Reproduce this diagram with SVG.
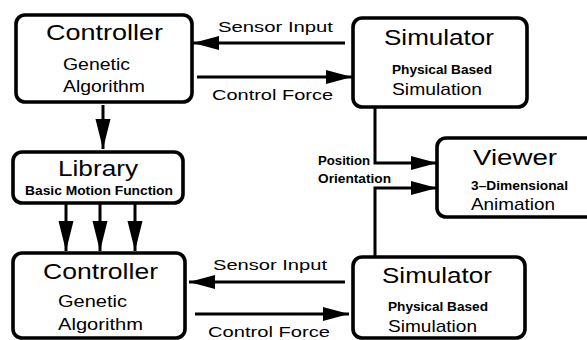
<svg xmlns="http://www.w3.org/2000/svg" width="587" height="340" viewBox="0 0 587 340">
<defs>
<style>
.box{fill:#fff;stroke:#000;stroke-width:3.6}
.ln{fill:none;stroke:#000;stroke-width:3}
text{font-family:"Liberation Sans",Arial,Helvetica,sans-serif;fill:#000}
.t{font-size:22px}
.s{font-size:17px}
.b{font-size:12px;font-weight:bold}
.l{font-size:15px}
</style>
<marker id="ah" markerUnits="userSpaceOnUse" markerWidth="28" markerHeight="16" refX="26" refY="7" orient="auto">
<path d="M0,0 L26,7 L0,14 z" fill="#000"/>
</marker>
<marker id="ad" markerUnits="userSpaceOnUse" markerWidth="32" markerHeight="16" refX="30" refY="7.5" orient="auto">
<path d="M0,0 L30,7.5 L0,15 z" fill="#000"/>
</marker>
</defs>
<rect width="587" height="340" fill="#fff"/>
<g id="connectors">
<line class="ln" x1="345" y1="43" x2="193" y2="43" marker-end="url(#ah)"/>
<line class="ln" x1="197" y1="77" x2="352" y2="77" marker-end="url(#ah)"/>
<line class="ln" x1="103" y1="105" x2="103" y2="149" marker-end="url(#ad)"/>
<line class="ln" x1="66" y1="204" x2="66" y2="251" marker-end="url(#ad)"/>
<line class="ln" x1="100" y1="204" x2="100" y2="251" marker-end="url(#ad)"/>
<line class="ln" x1="135" y1="204" x2="135" y2="251" marker-end="url(#ad)"/>
<path class="ln" d="M375,107 V163 H437" marker-end="url(#ah)"/>
<path class="ln" d="M375,257 V188 H437" marker-end="url(#ah)"/>
<line class="ln" x1="345" y1="282" x2="189" y2="282" marker-end="url(#ah)"/>
<line class="ln" x1="195" y1="314" x2="349" y2="314" marker-end="url(#ah)"/>
<text class="l" x="218" y="32" textLength="115" lengthAdjust="spacingAndGlyphs">Sensor Input</text>
<text class="l" x="212" y="100" textLength="121" lengthAdjust="spacingAndGlyphs">Control Force</text>
<text class="l" x="213" y="270" textLength="114" lengthAdjust="spacingAndGlyphs">Sensor Input</text>
<text class="l" x="208" y="337" textLength="122" lengthAdjust="spacingAndGlyphs">Control Force</text>
<text class="b" x="318" y="165" textLength="52" lengthAdjust="spacingAndGlyphs">Position</text>
<text class="b" x="318" y="183" textLength="73" lengthAdjust="spacingAndGlyphs">Orientation</text>
</g>
<g id="controller1">
<rect class="box" x="16" y="15" width="176" height="87" rx="9"/>
<text class="t" x="46" y="40" textLength="117" lengthAdjust="spacingAndGlyphs">Controller</text>
<text class="s" x="63" y="70" textLength="67" lengthAdjust="spacingAndGlyphs">Genetic</text>
<text class="s" x="63" y="92" textLength="82" lengthAdjust="spacingAndGlyphs">Algorithm</text>
</g>
<g id="simulator1">
<rect class="box" x="353" y="18" width="174" height="89" rx="9"/>
<text class="t" x="384" y="45" textLength="110" lengthAdjust="spacingAndGlyphs">Simulator</text>
<text class="b" x="392" y="74" textLength="100" lengthAdjust="spacingAndGlyphs">Physical Based</text>
<text class="s" x="392" y="95" textLength="90" lengthAdjust="spacingAndGlyphs">Simulation</text>
</g>
<g id="library">
<rect class="box" x="13" y="152" width="170" height="51" rx="9"/>
<text class="t" x="58" y="176" textLength="80" lengthAdjust="spacingAndGlyphs">Library</text>
<text class="b" x="25" y="195" textLength="148" lengthAdjust="spacingAndGlyphs">Basic Motion Function</text>
</g>
<g id="viewer">
<rect class="box" x="437" y="138" width="165" height="79" rx="9"/>
<text class="t" x="473" y="165" textLength="84" lengthAdjust="spacingAndGlyphs">Viewer</text>
<text class="b" x="471" y="190" textLength="97" lengthAdjust="spacingAndGlyphs">3–Dimensional</text>
<text class="s" x="471" y="210" textLength="84" lengthAdjust="spacingAndGlyphs">Animation</text>
</g>
<g id="controller2">
<rect class="box" x="13" y="253" width="172" height="85" rx="9"/>
<text class="t" x="43" y="279" textLength="115" lengthAdjust="spacingAndGlyphs">Controller</text>
<text class="s" x="58" y="307" textLength="69" lengthAdjust="spacingAndGlyphs">Genetic</text>
<text class="s" x="58" y="330" textLength="85" lengthAdjust="spacingAndGlyphs">Algorithm</text>
</g>
<g id="simulator2">
<rect class="box" x="353" y="257" width="172" height="81" rx="9"/>
<text class="t" x="382" y="283" textLength="110" lengthAdjust="spacingAndGlyphs">Simulator</text>
<text class="b" x="388" y="311" textLength="100" lengthAdjust="spacingAndGlyphs">Physical Based</text>
<text class="s" x="388" y="332" textLength="89" lengthAdjust="spacingAndGlyphs">Simulation</text>
</g>
</svg>
